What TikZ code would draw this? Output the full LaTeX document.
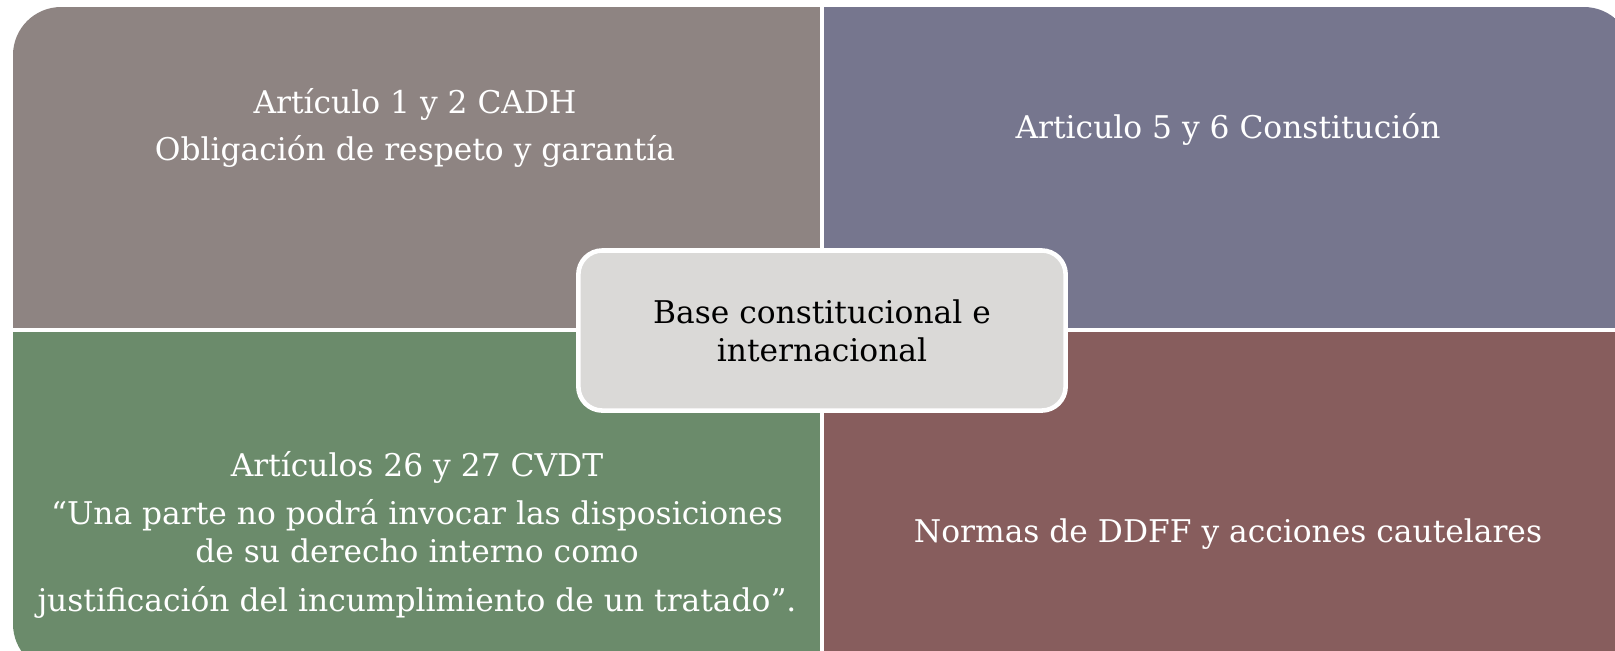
\documentclass[tikz,border=0pt]{standalone}
\usepackage{fontspec}
\setmainfont{DejaVu Serif}
\definecolor{mauve}{HTML}{8E8482}
\definecolor{slate}{HTML}{76768E}
\definecolor{sage}{HTML}{6B8B6B}
\definecolor{brick}{HTML}{875D5D}
\definecolor{hubgray}{HTML}{DAD9D7}
\begin{document}
\begin{tikzpicture}[x=0.01cm,y=-0.01cm,
    lbl/.style={text=white,align=center,font=\fontsize{8.9}{10.8}\selectfont},
    hub/.style={fill=hubgray,draw=white,line width=1.3pt,rounded corners=0.24cm,
      align=center,font=\fontsize{8.9}{10.8}\selectfont,
      minimum width=4.87cm,minimum height=1.6cm}]
  \useasboundingbox (0,0) rectangle (1615,650);
  \begin{scope}
    \clip[rounded corners=0.48cm] (13,7) rectangle (1632,672);
    \fill[mauve] (13,7) rectangle (820,328);
    \fill[slate] (824,7) rectangle (1632,328);
    \fill[sage] (13,332) rectangle (820,672);
    \fill[brick] (824,332) rectangle (1632,672);
  \end{scope}
  \node[lbl] (cadh) at (415,128) {Artículo 1 y 2 CADH\\[2.8pt]Obligación de respeto y garantía};
  \node[lbl] (const) at (1228,129) {Articulo 5 y 6 Constitución};
  \node[lbl] (cvdt) at (417,535) {Artículos 26 y 27 CVDT\\[2.8pt]“Una parte no podrá invocar las disposiciones\\de su derecho interno como\\[3pt]justificación del incumplimiento de un tratado”.};
  \node[lbl] (ddff) at (1228,534) {Normas de DDFF y acciones cautelares};
  \node[hub] (base) at (822,330.5) {Base constitucional e\\internacional};
\end{tikzpicture}
\end{document}
